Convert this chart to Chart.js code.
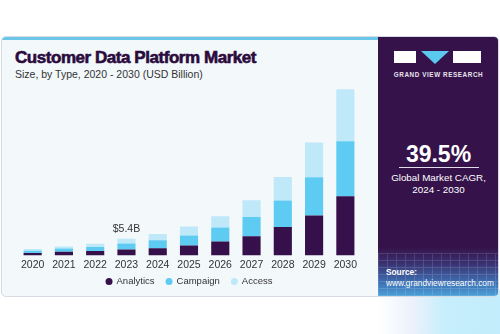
<!DOCTYPE html>
<html>
<head>
<meta charset="utf-8">
<script src="https://cdn.jsdelivr.net/npm/chart.js@4"></script>
<style>
  html, body { margin: 0; padding: 0; background: #fff; }
  body { width: 500px; height: 334px; position: relative; overflow: hidden; font-family: "Liberation Sans", Arial, sans-serif; }
  .glow { position: absolute; left: 378px; top: 290px; width: 122px; height: 44px;
    background: linear-gradient(90deg, #ffffff 0%, #eaf1fb 30%, #c6eefc 55%, #c3edfc 100%); }
  .card { position: absolute; left: 1px; top: 36px; width: 496px; height: 259px;
    background: #f3f8fb; border: 1px solid #d6dce1; border-radius: 5px; overflow: hidden; }
  .strip { position: absolute; left: 0; top: 0; width: 376px; height: 3px; background: #6cc6e8; }
  .title { position: absolute; left: 13px; top: 11px; font-size: 17px; font-weight: 700; color: #2a0b3c;
    letter-spacing: -0.45px; -webkit-text-stroke: 0.6px #2a0b3c; white-space: nowrap; }
  .sub { position: absolute; left: 13px; top: 31px; font-size: 10.5px; color: #333; white-space: nowrap; }
  .panel { position: absolute; left: 376px; top: 0; width: 121px; height: 259px;
    background: linear-gradient(180deg, #36124a 0%, #36124a 81%, #3a2f6e 87%, #3f72b4 95%, #4aa0d8 100%); }
  .grid { position: absolute; left: 0; top: 216px; width: 121px; height: 43px; opacity: 0.14;
    background:
      repeating-linear-gradient(90deg, rgba(255,255,255,0.9) 0 1px, transparent 1px 9px),
      repeating-linear-gradient(180deg, rgba(255,255,255,0.9) 0 1px, transparent 1px 7px); }
  .logo { position: absolute; top: 14px; height: 12px; }
  .lg1 { left: 16px; width: 22px; background: #fff; }
  .lg3 { left: 75px; width: 28px; background: #fff; }
  .tri { position: absolute; left: 43px; top: 14px; width: 0; height: 0;
    border-left: 14px solid transparent; border-right: 14px solid transparent; border-top: 13px solid #5bc8f0; }
  .brand { position: absolute; left: 0; width: 121px; top: 34px; text-align: center; color: #e8e4ee;
    font-size: 6.3px; font-weight: 700; letter-spacing: 0.6px; }
  .cagr { position: absolute; left: 0; width: 121px; top: 104px; text-align: center; color: #fff;
    font-size: 23px; font-weight: 700; }
  .rule { position: absolute; left: 21px; width: 80px; top: 130px; height: 1px; background: #e0dbe6; }
  .cap { position: absolute; left: 0; width: 121px; top: 135px; text-align: center; color: #fff;
    font-size: 9.8px; line-height: 12px; }
  .src { position: absolute; left: 8px; top: 230px; color: #fff; font-size: 8.3px; line-height: 11px; }
  .src b { font-weight: 700; }
  .chartbox { position: absolute; left: 9px; top: 42px; width: 350px; height: 216px; }
</style>
</head>
<body>
<div class="glow"></div>
<div class="card">
  <div class="strip"></div>
  <div class="title">Customer Data Platform Market</div>
  <div class="sub">Size, by Type, 2020 - 2030 (USD Billion)</div>
  <div class="chartbox"><canvas id="chart"></canvas></div>
  <div class="panel">
    <div class="grid"></div>
    <div class="logo lg1"></div>
    <div class="tri"></div>
    <div class="logo lg3"></div>
    <div class="brand">GRAND VIEW RESEARCH</div>
    <div class="cagr">39.5%</div>
    <div class="rule"></div>
    <div class="cap">Global Market CAGR,<br>2024 - 2030</div>
    <div class="src"><b>Source:</b><br>www.grandviewresearch.com</div>
  </div>
</div>
<script>
const years = ['2020', '2021', '2022', '2023', '2024', '2025', '2026', '2027', '2028', '2029', '2030'];
const analytics = [0.75, 1.2, 1.4, 1.95, 2.3, 3.25, 4.55, 6.2, 9.2, 13.0, 19.2];
const campaign = [0.78, 1.07, 1.3, 1.95, 2.6, 3.25, 4.55, 6.3, 8.6, 12.4, 17.9];
const access = [0.52, 0.65, 1.1, 1.5, 2.05, 2.9, 3.6, 5.4, 7.7, 11.3, 16.9];
const calloutIndex = 3;
const calloutText = '$5.4B';

const FONT = '"Liberation Sans", Arial, sans-serif';

// value label over 2023
const callout = {
    id: 'callout',
    afterDatasetsDraw(chart) {
        const bar = chart.getDatasetMeta(2).data[calloutIndex];
        if (!bar) return;
        const c = chart.ctx;
        c.save();
        c.font = '10.5px ' + FONT;
        c.fillStyle = '#333';
        c.textAlign = 'center';
        c.textBaseline = 'bottom';
        c.fillText(calloutText, bar.x, bar.y - 4);
        c.restore();
    }
};

// legend row drawn under the axis, tighter than the built-in one
const dotLegend = {
    id: 'dotLegend',
    afterDraw(chart) {
        const c = chart.ctx;
        const area = chart.chartArea;
        const y = area.bottom + 26;
        const r = 3.5, gapText = 4, gapItem = 11;
        c.save();
        c.font = '9.5px ' + FONT;
        const items = chart.data.datasets.map(ds => ({
            label: ds.label, color: ds.backgroundColor, w: c.measureText(ds.label).width
        }));
        let total = 0;
        items.forEach((it, i) => { total += 2 * r + gapText + it.w + (i ? gapItem : 0); });
        let x = (area.left + area.right) / 2 - total / 2;
        c.textBaseline = 'middle';
        items.forEach((it, i) => {
            if (i) x += gapItem;
            c.fillStyle = it.color;
            c.beginPath();
            c.arc(x + r, y, r, 0, Math.PI * 2);
            c.fill();
            x += 2 * r + gapText;
            c.fillStyle = '#333';
            c.fillText(it.label, x, y);
            x += it.w;
        });
        c.restore();
    }
};

new Chart(document.getElementById('chart'), {
    type: 'bar',
    data: {
        labels: years,
        datasets: [
            { label: 'Analytics', data: analytics, backgroundColor: '#36104a' },
            { label: 'Campaign', data: campaign, backgroundColor: '#5ecbf3' },
            { label: 'Access', data: access, backgroundColor: '#bfe8f8' }
        ]
    },
    options: {
        responsive: true,
        maintainAspectRatio: false,
        animation: false,
        datasets: { bar: { barPercentage: 0.58, categoryPercentage: 1 } },
        layout: { padding: { left: 6, right: 0, top: 4, bottom: 21 } },
        scales: {
            x: {
                stacked: true,
                grid: { display: false, drawTicks: false },
                border: { display: false },
                ticks: { color: '#333', font: { size: 10.5, family: FONT }, padding: 3, maxRotation: 0 }
            },
            y: {
                stacked: true,
                display: false,
                min: 0,
                max: 56
            }
        },
        plugins: {
            legend: { display: false },
            tooltip: { enabled: false }
        }
    },
    plugins: [callout, dotLegend]
});
</script>
</body>
</html>
